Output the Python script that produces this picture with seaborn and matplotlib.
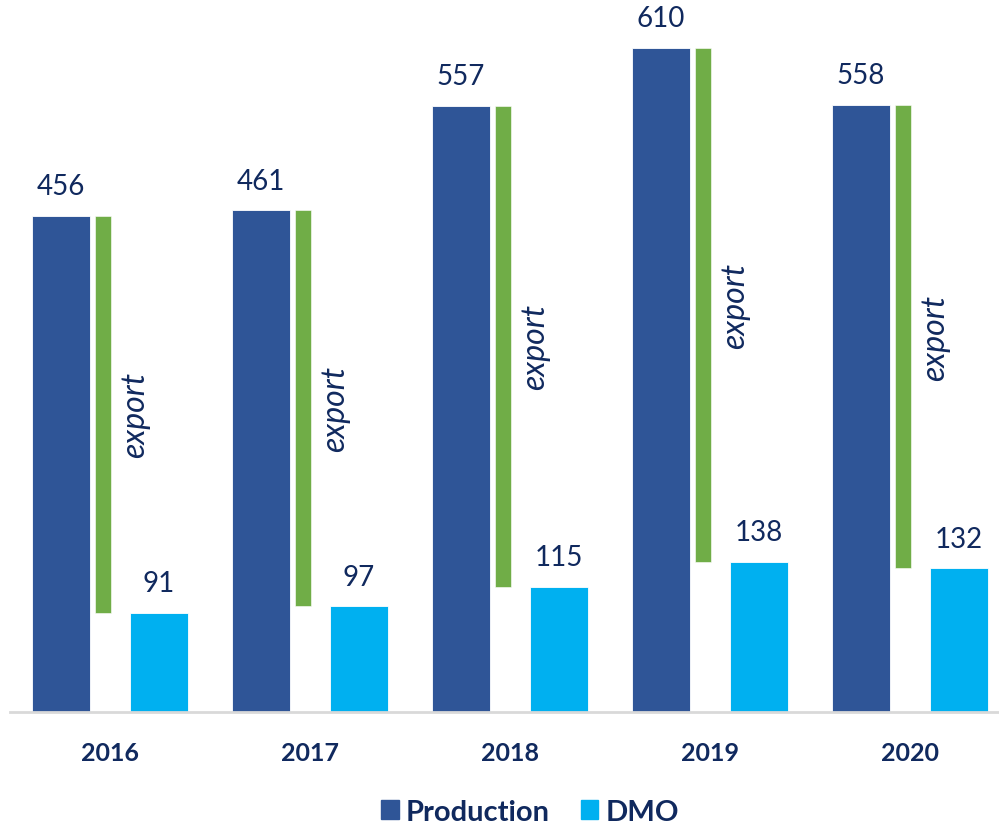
import matplotlib
matplotlib.use("Agg")
import matplotlib.pyplot as plt
import seaborn as sns
import pandas as pd
import numpy as np

years = ["2016", "2017", "2018", "2019", "2020"]
production = [456, 461, 557, 610, 558]
dmo = [91, 97, 115, 138, 132]
series_names = ["Production", "DMO"]

C_PROD = "#2f5597"
C_DMO = "#00b0f0"
C_EXP = "#70ad47"
C_TXT = "#10295e"

sns.set_theme(style="white")
plt.rcParams["font.family"] = ["Lato", "DejaVu Sans"]

df = pd.DataFrame({
    "year": years * 2,
    "value": production + dmo,
    "series": [series_names[0]] * len(years) + [series_names[1]] * len(years),
})

fig = plt.figure(figsize=(9.99, 8.29), dpi=100)
ax = fig.add_axes([10 / 999, 116 / 829, 989 / 999, 713 / 829])

sns.barplot(data=df, x="year", y="value", hue="series", hue_order=series_names,
            palette=[C_PROD, C_DMO], width=0.98, gap=0.41, dodge=True,
            ax=ax, legend=False, saturation=1, edgecolor="white", linewidth=0.6)

x = np.arange(len(years))
exp_off = -0.035
exp_h = np.array(production) - np.array(dmo)
ax.bar(x + exp_off, exp_h, bottom=dmo, width=0.08, color=C_EXP, edgecolor="white", linewidth=0.4)

for i in range(len(years)):
    ax.annotate(str(production[i]), (x[i] - 0.245, production[i]), xytext=(0, 12),
                textcoords="offset points", ha="center", va="bottom", fontsize=20, color=C_TXT)
    ax.annotate(str(dmo[i]), (x[i] + 0.245, dmo[i]), xytext=(0, 12),
                textcoords="offset points", ha="center", va="bottom", fontsize=20, color=C_TXT)
    ax.text(x[i] + exp_off + 0.16, (production[i] + dmo[i]) / 2, "export", rotation=90,
            ha="center", va="center", fontsize=23, style="italic", color=C_TXT)

ax.set_xlim(-0.5, 4.445)
ax.set_ylim(0, 655)
ax.set_xlabel("")
ax.set_ylabel("")
ax.set_yticks([])
ax.set_xticks(x)
ax.set_xticklabels(years, fontsize=18, fontweight="bold", color=C_TXT)
ax.tick_params(axis="x", length=0, pad=21)
for s in ["top", "right", "left"]:
    ax.spines[s].set_visible(False)
ax.spines["bottom"].set_color("#d9d9d9")
ax.spines["bottom"].set_linewidth(2)

from matplotlib.patches import Patch
handles = [Patch(color=C_PROD), Patch(color=C_DMO)]
fig.legend(handles, series_names, loc="center", bbox_to_anchor=(530 / 999, 16 / 829),
           ncol=2, frameon=False, handlelength=0.6, handleheight=0.6, handletextpad=0.25,
           columnspacing=1.05, prop={"size": 21, "weight": "bold"}, labelcolor=C_TXT,
           borderpad=0.0)

fig.savefig("out.png", dpi=100)
